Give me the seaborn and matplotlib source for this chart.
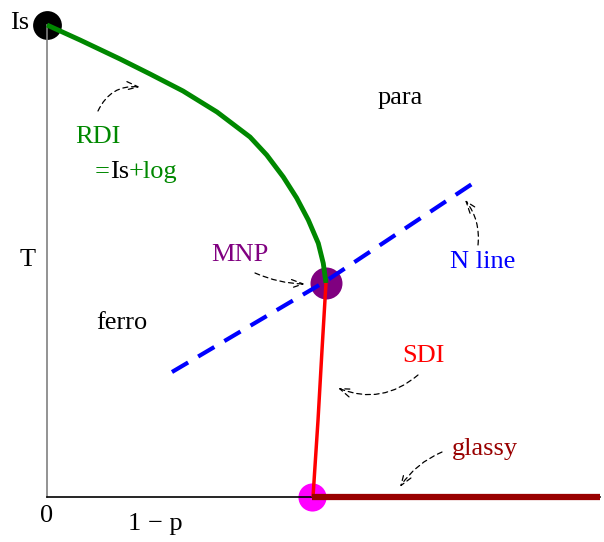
import matplotlib
matplotlib.use("Agg")
import matplotlib.pyplot as plt
import seaborn as sns
import pandas as pd
from matplotlib.offsetbox import HPacker, TextArea, AnnotationBbox

# ---- data (x = 1-p, y = T, both normalised 0..1) ----
rdi_x = [0.0, 0.0597, 0.1320, 0.1863, 0.2459, 0.3074, 0.3671, 0.3973,
         0.4273, 0.4515, 0.4725, 0.4906, 0.4996, 0.5045]
rdi_y = [1.0, 0.9682, 0.9280, 0.8962, 0.8602, 0.8157, 0.7627, 0.7246,
         0.6780, 0.6335, 0.5869, 0.5375, 0.4951, 0.4534]
sdi_x = [0.5045, 0.4973, 0.4901, 0.4810]
sdi_y = [0.4534, 0.3114, 0.1631, 0.0]
nline_x = [0.2260, 0.5045, 0.7794]
nline_y = [0.2648, 0.4576, 0.6716]
glassy_x = [0.479, 1.0]
glassy_y = [0.0, 0.0]
points_name = ["Is", "MNP", "glassy_start"]
points_x = [0.0, 0.5045, 0.4792]
points_y = [1.0, 0.4534, 0.0]
points_color = ["black", "#800080", "#ff00ff"]
points_size = [430, 530, 410]

sns.set_theme(style="white")
plt.rcParams["font.family"] = ["Liberation Serif", "DejaVu Serif"]

fig = plt.figure(figsize=(6.04, 5.42), dpi=100)
ax = fig.add_axes([47 / 604, 45 / 542, 553 / 604, 472 / 542])
ax.set_xlim(0, 1)
ax.set_ylim(0, 1)
ax.set_xticks([])
ax.set_yticks([])
for s in ["top", "right"]:
    ax.spines[s].set_visible(False)
ax.spines["left"].set_color("#808080")
ax.spines["left"].set_linewidth(1.2)
ax.spines["bottom"].set_color("black")
ax.spines["bottom"].set_linewidth(1.2)
ax.set_facecolor("white")

df_pts = pd.DataFrame({"x": points_x, "y": points_y, "name": points_name})
for i, name in enumerate(points_name):
    sns.scatterplot(data=df_pts[df_pts["name"] == name], x="x", y="y", ax=ax,
                    s=points_size[i], color=points_color[i], linewidth=0,
                    zorder=2, clip_on=False, legend=False)

df_rdi = pd.DataFrame({"x": rdi_x, "y": rdi_y})
df_sdi = pd.DataFrame({"x": sdi_x, "y": sdi_y})
df_n = pd.DataFrame({"x": nline_x, "y": nline_y})
df_g = pd.DataFrame({"x": glassy_x, "y": glassy_y})

sns.lineplot(data=df_rdi, x="x", y="y", sort=False, ax=ax, color="#008800",
             linewidth=3.5, zorder=4)
sns.lineplot(data=df_sdi, x="x", y="y", sort=False, ax=ax, color="#ff0000",
             linewidth=2.5, zorder=4)
sns.lineplot(data=df_g, x="x", y="y", sort=False, ax=ax, color="#990000",
             linewidth=4.5, zorder=4)
sns.lineplot(data=df_n, x="x", y="y", sort=False, ax=ax, color="#0000ff",
             linewidth=3, linestyle=(0, (4.5, 2.8)), zorder=5)
for line in ax.lines:
    line.set_clip_on(False)
    line.set_solid_capstyle("butt")
    line.set_solid_joinstyle("round")
ax.set_xlabel("")
ax.set_ylabel("")

fs = 19
ax.text(-0.0488, 1.004, "Is", ha="center", va="center", fontsize=fs, color="black")
ax.text(0.638, 0.845, "para", ha="center", va="center", fontsize=fs, color="black")
ax.text(0.0922, 0.763, "RDI", ha="center", va="center", fontsize=fs, color="#008800")
parts = [TextArea("=", textprops=dict(color="#008800", fontsize=fs)),
         TextArea("Is", textprops=dict(color="black", fontsize=fs)),
         TextArea("+log", textprops=dict(color="#008800", fontsize=fs))]
box = HPacker(children=parts, align="baseline", pad=0, sep=0)
ab = AnnotationBbox(box, (0.0868, 0.6886), xycoords="data", box_alignment=(0, 0.5),
                    frameon=False, pad=0)
ax.add_artist(ab)
ax.text(-0.0344, 0.502, "T", ha="center", va="center", fontsize=fs, color="black")
ax.text(0.349, 0.5127, "MNP", ha="center", va="center", fontsize=fs, color="#800080")
ax.text(0.788, 0.498, "N line", ha="center", va="center", fontsize=fs, color="#0000ff")
ax.text(0.1356, 0.3686, "ferro", ha="center", va="center", fontsize=fs, color="black")
ax.text(0.680, 0.2987, "SDI", ha="center", va="center", fontsize=fs, color="#ff0000")
ax.text(0.792, 0.1017, "glassy", ha="center", va="center", fontsize=fs, color="#990000")
ax.text(0.0, -0.040, "0", ha="center", va="center", fontsize=fs, color="black")
ax.text(0.1953, -0.057, "1 \u2212 p", ha="center", va="center", fontsize=fs, color="black")

arrows = [
    ((0.0922, 0.8178), (0.1682, 0.8686), -0.35),
    ((0.3761, 0.4746), (0.4665, 0.4513), 0.1),
    ((0.7794, 0.5339), (0.7559, 0.6292), 0.2),
    ((0.6709, 0.2585), (0.5262, 0.2309), -0.3),
    ((0.7143, 0.0953), (0.6383, 0.0212), 0.15),
]
for tail, head, rad in arrows:
    ax.annotate("", xy=head, xytext=tail, xycoords="data", textcoords="data",
                arrowprops=dict(arrowstyle="->,head_length=0.7,head_width=0.25",
                                color="black", lw=0.9, linestyle=(0, (4, 3)),
                                connectionstyle=f"arc3,rad={rad}",
                                shrinkA=0, shrinkB=0))

fig.savefig("out.png", dpi=100, facecolor="white")
